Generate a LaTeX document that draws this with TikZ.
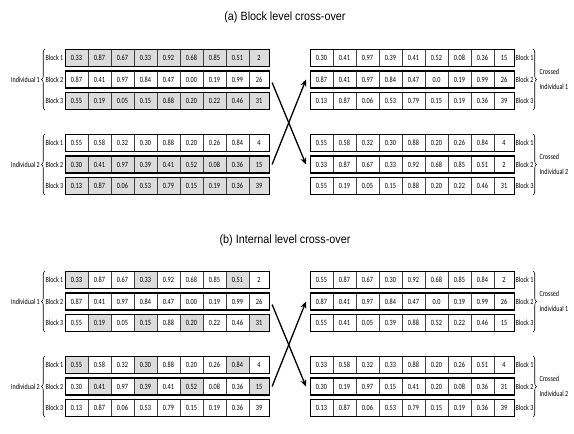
\documentclass[tikz,border=0pt]{standalone}
\usepackage{fontspec}
\usetikzlibrary{arrows.meta,decorations.pathreplacing}
\newfontfamily\cellfnt[FakeStretch=0.78]{Carlito}
\newfontfamily\titlefnt[FakeStretch=0.9]{Liberation Sans}
\definecolor{cellgrey}{HTML}{DCDCDC}
\tikzset{
  cellbox/.style={draw=black!75, line width=0.5pt, minimum height=17pt, inner sep=0pt, font=\cellfnt\fontsize{8}{9}\selectfont},
  rowbox/.style={draw=black, line width=1.1pt, minimum height=17pt, minimum width=204pt, inner sep=0pt, anchor=west},
  lbl/.style={inner sep=0.5pt, font=\cellfnt\fontsize{7.8}{15}\selectfont},
  titlestyle/.style={inner sep=0pt, font=\titlefnt\fontsize{12}{14}\selectfont},
  bracestyle/.style={decorate, decoration={brace, amplitude=3.5pt}, line width=0.6pt},
  crossarrow/.style={line width=1.3pt, -{Stealth[length=7pt,width=6pt]}}
}
\newcommand\blockrow[4]{%
  \foreach \v/\g [count=\i] in {#4} {
    \pgfmathsetmacro\cx{#2+(\i-1)*23+(\i<9 ? 11.5 : 10)}
    \pgfmathsetmacro\cw{\i<9 ? 23 : 20}
    \ifnum\g=1 \def\cf{cellgrey}\else\def\cf{white}\fi
    \node[cellbox, minimum width=\cw pt, fill=\cf] (#1-\i) at (\cx,#3) {\v};
  }
  \node[rowbox] (#1) at (#2,#3) {};
}
\newcommand\leftgroup[5]{%
  \node[lbl, anchor=east] (#1l1) at (64,#2) {Block 1};
  \node[lbl, anchor=east] (#1l2) at (64,#3) {Block 2};
  \node[lbl, anchor=east] (#1l3) at (64,#4) {Block 3};
  \draw[bracestyle] (45,#4+9) -- (45,#2-9);
  \node[lbl, anchor=east] (#1ind) at (40.5,#3) {#5};
}
\newcommand\rightgroup[5]{%
  \node[lbl, anchor=west] (#1l1) at (515,#2) {Block 1};
  \node[lbl, anchor=west] (#1l2) at (515,#3) {Block 2};
  \node[lbl, anchor=west] (#1l3) at (515,#4) {Block 3};
  \draw[bracestyle] (533,#2-9) -- (533,#4+9);
  \node[lbl, anchor=west, align=left] (#1ind) at (539,#3) {Crossed\\Individual #5};
}
\begin{document}
\begin{tikzpicture}[x=1pt,y=-1pt]
\useasboundingbox (0,0) rectangle (574,434);

% ---------- (a) ----------
\node[titlestyle] (ta) at (285,17) {(a) Block level cross-over};

\blockrow{aA1}{65}{58}{0.33/1,0.87/1,0.67/1,0.33/1,0.92/1,0.68/1,0.85/1,0.51/1,2/1}
\blockrow{aA2}{65}{79.5}{0.87/0,0.41/0,0.97/0,0.84/0,0.47/0,0.00/0,0.19/0,0.99/0,26/0}
\blockrow{aA3}{65}{101}{0.55/1,0.19/1,0.05/1,0.15/1,0.88/1,0.20/1,0.22/1,0.46/1,31/1}
\blockrow{aB1}{65}{143}{0.55/0,0.58/0,0.32/0,0.30/0,0.88/0,0.20/0,0.26/0,0.84/0,4/0}
\blockrow{aB2}{65}{164.5}{0.30/1,0.41/1,0.97/1,0.39/1,0.41/1,0.52/1,0.08/1,0.36/1,15/1}
\blockrow{aB3}{65}{186}{0.13/1,0.87/1,0.06/1,0.53/1,0.79/1,0.15/1,0.19/1,0.36/1,39/1}

\blockrow{aC1}{310}{58}{0.30/0,0.41/0,0.97/0,0.39/0,0.41/0,0.52/0,0.08/0,0.36/0,15/0}
\blockrow{aC2}{310}{79.5}{0.87/0,0.41/0,0.97/0,0.84/0,0.47/0,0.0/0,0.19/0,0.99/0,26/0}
\blockrow{aC3}{310}{101}{0.13/0,0.87/0,0.06/0,0.53/0,0.79/0,0.15/0,0.19/0,0.36/0,39/0}
\blockrow{aD1}{310}{143}{0.55/0,0.58/0,0.32/0,0.30/0,0.88/0,0.20/0,0.26/0,0.84/0,4/0}
\blockrow{aD2}{310}{164.5}{0.33/0,0.87/0,0.67/0,0.33/0,0.92/0,0.68/0,0.85/0,0.51/0,2/0}
\blockrow{aD3}{310}{186}{0.55/0,0.19/0,0.05/0,0.15/0,0.88/0,0.20/0,0.22/0,0.46/0,31/0}

\leftgroup{aA}{58}{79.5}{101}{Individual 1}
\leftgroup{aB}{143}{164.5}{186}{Individual 2}
\rightgroup{aC}{58}{79.5}{101}{1}
\rightgroup{aD}{143}{164.5}{186}{2}

\draw[crossarrow] ([xshift=2pt,yshift=-3pt]aA2.east) -- ([xshift=-4pt]aD2.west);
\draw[crossarrow] ([xshift=2pt]aB2.east) -- ([xshift=-4pt]aC2.west);

% ---------- (b) ----------
\node[titlestyle] (tb) at (285,240) {(b) Internal level cross-over};

\blockrow{bA1}{65}{280}{0.33/1,0.87/0,0.67/0,0.33/1,0.92/0,0.68/0,0.85/0,0.51/1,2/0}
\blockrow{bA2}{65}{301.5}{0.87/0,0.41/0,0.97/0,0.84/0,0.47/0,0.00/0,0.19/0,0.99/0,26/0}
\blockrow{bA3}{65}{323}{0.55/0,0.19/1,0.05/0,0.15/1,0.88/0,0.20/1,0.22/0,0.46/0,31/1}
\blockrow{bB1}{65}{365}{0.55/1,0.58/0,0.32/0,0.30/1,0.88/0,0.20/0,0.26/0,0.84/1,4/0}
\blockrow{bB2}{65}{386.5}{0.30/0,0.41/1,0.97/0,0.39/1,0.41/0,0.52/1,0.08/0,0.36/0,15/1}
\blockrow{bB3}{65}{408}{0.13/0,0.87/0,0.06/0,0.53/0,0.79/0,0.15/0,0.19/0,0.36/0,39/0}

\blockrow{bC1}{310}{280}{0.55/0,0.87/0,0.67/0,0.30/0,0.92/0,0.68/0,0.85/0,0.84/0,2/0}
\blockrow{bC2}{310}{301.5}{0.87/0,0.41/0,0.97/0,0.84/0,0.47/0,0.0/0,0.19/0,0.99/0,26/0}
\blockrow{bC3}{310}{323}{0.55/0,0.41/0,0.05/0,0.39/0,0.88/0,0.52/0,0.22/0,0.46/0,15/0}
\blockrow{bD1}{310}{365}{0.33/0,0.58/0,0.32/0,0.33/0,0.88/0,0.20/0,0.26/0,0.51/0,4/0}
\blockrow{bD2}{310}{386.5}{0.30/0,0.19/0,0.97/0,0.15/0,0.41/0,0.20/0,0.08/0,0.36/0,31/0}
\blockrow{bD3}{310}{408}{0.13/0,0.87/0,0.06/0,0.53/0,0.79/0,0.15/0,0.19/0,0.36/0,39/0}

\leftgroup{bA}{280}{301.5}{323}{Individual 1}
\leftgroup{bB}{365}{386.5}{408}{Individual 2}
\rightgroup{bC}{280}{301.5}{323}{1}
\rightgroup{bD}{365}{386.5}{408}{2}

\draw[crossarrow] ([xshift=2pt,yshift=-3pt]bA2.east) -- ([xshift=-4pt]bD2.west);
\draw[crossarrow] ([xshift=2pt]bB2.east) -- ([xshift=-4pt]bC2.west);
\end{tikzpicture}
\end{document}
